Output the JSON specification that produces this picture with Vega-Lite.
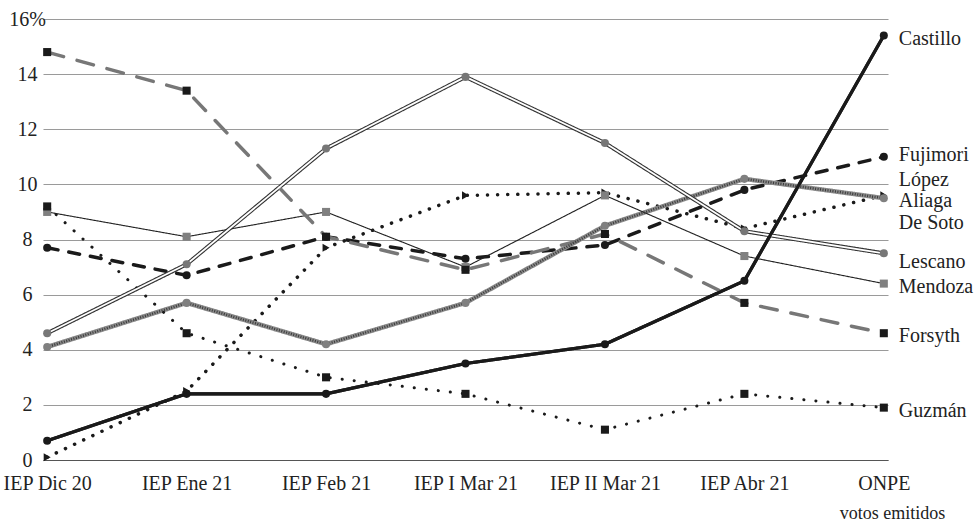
{
  "$schema": "https://vega.github.io/schema/vega-lite/v6.json",
  "width": 845,
  "height": 441,
  "autosize": {"type": "none"},
  "padding": {"left": 43, "top": 19, "right": 90, "bottom": 64},
  "background": "white",
  "data": {
    "values": [
      {"candidato": "Castillo", "encuesta": "IEP Dic 20", "valor": 0.7},
      {"candidato": "Castillo", "encuesta": "IEP Ene 21", "valor": 2.4},
      {"candidato": "Castillo", "encuesta": "IEP Feb 21", "valor": 2.4},
      {"candidato": "Castillo", "encuesta": "IEP I Mar 21", "valor": 3.5},
      {"candidato": "Castillo", "encuesta": "IEP II Mar 21", "valor": 4.2},
      {"candidato": "Castillo", "encuesta": "IEP Abr 21", "valor": 6.5},
      {"candidato": "Castillo", "encuesta": "ONPE", "valor": 15.4},
      {"candidato": "Fujimori", "encuesta": "IEP Dic 20", "valor": 7.7},
      {"candidato": "Fujimori", "encuesta": "IEP Ene 21", "valor": 6.7},
      {"candidato": "Fujimori", "encuesta": "IEP Feb 21", "valor": 8.1},
      {"candidato": "Fujimori", "encuesta": "IEP I Mar 21", "valor": 7.3},
      {"candidato": "Fujimori", "encuesta": "IEP II Mar 21", "valor": 7.8},
      {"candidato": "Fujimori", "encuesta": "IEP Abr 21", "valor": 9.8},
      {"candidato": "Fujimori", "encuesta": "ONPE", "valor": 11.0},
      {"candidato": "López Aliaga", "encuesta": "IEP Dic 20", "valor": 0.1},
      {"candidato": "López Aliaga", "encuesta": "IEP Ene 21", "valor": 2.5},
      {"candidato": "López Aliaga", "encuesta": "IEP Feb 21", "valor": 7.7},
      {"candidato": "López Aliaga", "encuesta": "IEP I Mar 21", "valor": 9.6},
      {"candidato": "López Aliaga", "encuesta": "IEP II Mar 21", "valor": 9.7},
      {"candidato": "López Aliaga", "encuesta": "IEP Abr 21", "valor": 8.4},
      {"candidato": "López Aliaga", "encuesta": "ONPE", "valor": 9.6},
      {"candidato": "De Soto", "encuesta": "IEP Dic 20", "valor": 4.1},
      {"candidato": "De Soto", "encuesta": "IEP Ene 21", "valor": 5.7},
      {"candidato": "De Soto", "encuesta": "IEP Feb 21", "valor": 4.2},
      {"candidato": "De Soto", "encuesta": "IEP I Mar 21", "valor": 5.7},
      {"candidato": "De Soto", "encuesta": "IEP II Mar 21", "valor": 8.5},
      {"candidato": "De Soto", "encuesta": "IEP Abr 21", "valor": 10.2},
      {"candidato": "De Soto", "encuesta": "ONPE", "valor": 9.5},
      {"candidato": "Lescano", "encuesta": "IEP Dic 20", "valor": 4.6},
      {"candidato": "Lescano", "encuesta": "IEP Ene 21", "valor": 7.1},
      {"candidato": "Lescano", "encuesta": "IEP Feb 21", "valor": 11.3},
      {"candidato": "Lescano", "encuesta": "IEP I Mar 21", "valor": 13.9},
      {"candidato": "Lescano", "encuesta": "IEP II Mar 21", "valor": 11.5},
      {"candidato": "Lescano", "encuesta": "IEP Abr 21", "valor": 8.3},
      {"candidato": "Lescano", "encuesta": "ONPE", "valor": 7.5},
      {"candidato": "Mendoza", "encuesta": "IEP Dic 20", "valor": 9.0},
      {"candidato": "Mendoza", "encuesta": "IEP Ene 21", "valor": 8.1},
      {"candidato": "Mendoza", "encuesta": "IEP Feb 21", "valor": 9.0},
      {"candidato": "Mendoza", "encuesta": "IEP I Mar 21", "valor": 7.0},
      {"candidato": "Mendoza", "encuesta": "IEP II Mar 21", "valor": 9.6},
      {"candidato": "Mendoza", "encuesta": "IEP Abr 21", "valor": 7.4},
      {"candidato": "Mendoza", "encuesta": "ONPE", "valor": 6.4},
      {"candidato": "Forsyth", "encuesta": "IEP Dic 20", "valor": 14.8},
      {"candidato": "Forsyth", "encuesta": "IEP Ene 21", "valor": 13.4},
      {"candidato": "Forsyth", "encuesta": "IEP Feb 21", "valor": 8.1},
      {"candidato": "Forsyth", "encuesta": "IEP I Mar 21", "valor": 6.9},
      {"candidato": "Forsyth", "encuesta": "IEP II Mar 21", "valor": 8.2},
      {"candidato": "Forsyth", "encuesta": "IEP Abr 21", "valor": 5.7},
      {"candidato": "Forsyth", "encuesta": "ONPE", "valor": 4.6},
      {"candidato": "Guzmán", "encuesta": "IEP Dic 20", "valor": 9.2},
      {"candidato": "Guzmán", "encuesta": "IEP Ene 21", "valor": 4.6},
      {"candidato": "Guzmán", "encuesta": "IEP Feb 21", "valor": 3.0},
      {"candidato": "Guzmán", "encuesta": "IEP I Mar 21", "valor": 2.4},
      {"candidato": "Guzmán", "encuesta": "IEP II Mar 21", "valor": 1.1},
      {"candidato": "Guzmán", "encuesta": "IEP Abr 21", "valor": 2.4},
      {"candidato": "Guzmán", "encuesta": "ONPE", "valor": 1.9}
    ]
  },
  "encoding": {
    "x": {
      "field": "encuesta",
      "type": "ordinal",
      "sort": ["IEP Dic 20", "IEP Ene 21", "IEP Feb 21", "IEP I Mar 21", "IEP II Mar 21", "IEP Abr 21", "ONPE"],
      "scale": {"padding": 0.03},
      "axis": {
        "labelAngle": 0,
        "labelPadding": 13,
        "labelFontSize": 20,
        "ticks": false,
        "tickSize": 0,
        "grid": false,
        "domainColor": "#555555",
        "domainWidth": 1.2,
        "title": "votos emitidos",
        "titleFontSize": 18,
        "titleFontWeight": "normal",
        "titleX": 849,
        "titleY": 58,
        "titleAlign": "center",
        "titleBaseline": "alphabetic",
        "titleColor": "#222222"
      }
    },
    "y": {
      "field": "valor",
      "type": "quantitative",
      "scale": {"domain": [0, 16], "nice": false},
      "axis": {
        "values": [0, 2, 4, 6, 8, 10, 12, 14, 16],
        "labelExpr": "datum.value == 16 ? '16%' : datum.label",
        "labelAlign": "center",
        "labelPadding": 16,
        "labelFontSize": 20,
        "domain": false,
        "ticks": false,
        "tickSize": 0,
        "gridColor": "#9a9a9a",
        "gridWidth": 1.1,
        "title": null
      }
    }
  },
  "layer": [
    {
      "mark": {"type": "line", "strokeCap": "round", "strokeJoin": "round"},
      "encoding": {
        "stroke": {
          "field": "candidato",
          "type": "nominal",
          "scale": {
            "domain": ["Mendoza", "Lescano", "De Soto", "Forsyth", "Guzmán", "López Aliaga", "Fujimori", "Castillo"],
            "range": ["#222222", "#333333", "#8a8a8a", "#777777", "#1a1a1a", "#1a1a1a", "#1a1a1a", "#1a1a1a"]
          },
          "legend": null
        },
        "strokeDash": {
          "field": "candidato",
          "type": "nominal",
          "scale": {
            "domain": ["Mendoza", "Lescano", "De Soto", "Forsyth", "Guzmán", "López Aliaga", "Fujimori", "Castillo"],
            "range": [[1, 0], [1, 0], [1, 0], [17, 14], [0.1, 12], [0.1, 10], [11, 11], [1, 0]]
          },
          "legend": null
        },
        "strokeWidth": {
          "field": "candidato",
          "type": "nominal",
          "scale": {
            "type": "ordinal",
            "domain": ["Mendoza", "Lescano", "De Soto", "Forsyth", "Guzmán", "López Aliaga", "Fujimori", "Castillo"],
            "range": [1.1, 4, 4.5, 3.5, 3, 3.5, 3.5, 3.2]
          },
          "legend": null
        },
        "order": {"value": null}
      }
    },
    {
      "transform": [{"filter": "datum.candidato == 'De Soto'"}],
      "mark": {"type": "line", "stroke": "#3a3a3a", "strokeWidth": 2.5, "strokeDash": [1, 1.5], "strokeCap": "butt"},
      "encoding": {"order": {"value": null}}
    },
    {
      "transform": [{"filter": "datum.candidato == 'Lescano'"}],
      "mark": {"type": "line", "stroke": "white", "strokeWidth": 1.8, "strokeJoin": "round"},
      "encoding": {"order": {"value": null}}
    },
    {
      "transform": [{"filter": "datum.candidato == 'Castillo'"}],
      "mark": {"type": "line", "stroke": "#1a1a1a", "strokeWidth": 3.2, "strokeJoin": "round"},
      "encoding": {"order": {"value": null}}
    },
    {
      "mark": {"type": "point", "filled": true, "size": 65, "opacity": 1, "strokeWidth": 0},
      "encoding": {
        "fill": {
          "field": "candidato",
          "type": "nominal",
          "scale": {
            "domain": ["Castillo", "Fujimori", "López Aliaga", "De Soto", "Lescano", "Mendoza", "Forsyth", "Guzmán"],
            "range": ["#1a1a1a", "#1a1a1a", "#1a1a1a", "#808080", "#777777", "#808080", "#1a1a1a", "#1a1a1a"]
          },
          "legend": null
        },
        "shape": {
          "field": "candidato",
          "type": "nominal",
          "scale": {
            "domain": ["Castillo", "Fujimori", "López Aliaga", "De Soto", "Lescano", "Mendoza", "Forsyth", "Guzmán"],
            "range": ["circle", "circle", "triangle-right", "circle", "circle", "square", "square", "square"]
          },
          "legend": null
        }
      }
    },
    {
      "transform": [{"filter": "datum.encuesta == 'ONPE' && indexof(['Castillo', 'Mendoza', 'Forsyth', 'Guzmán'], datum.candidato) >= 0"}],
      "mark": {"type": "text", "align": "left", "baseline": "middle", "dx": 15, "dy": 3, "fontSize": 20, "font": "Liberation Serif", "color": "#222222"},
      "encoding": {"text": {"field": "candidato"}}
    },
    {
      "transform": [{"filter": "datum.encuesta == 'ONPE' && datum.candidato == 'Fujimori'"}],
      "mark": {"type": "text", "align": "left", "baseline": "middle", "dx": 15, "dy": -2, "fontSize": 20, "font": "Liberation Serif", "color": "#222222"},
      "encoding": {"text": {"field": "candidato"}}
    },
    {
      "transform": [{"filter": "datum.encuesta == 'ONPE' && datum.candidato == 'López Aliaga'"}],
      "mark": {"type": "text", "align": "left", "baseline": "middle", "dx": 15, "dy": -15, "lineHeight": 21, "fontSize": 20, "font": "Liberation Serif", "color": "#222222"},
      "encoding": {"text": {"value": ["López", "Aliaga"]}}
    },
    {
      "transform": [{"filter": "datum.encuesta == 'ONPE' && datum.candidato == 'De Soto'"}],
      "mark": {"type": "text", "align": "left", "baseline": "middle", "dx": 15, "dy": 25, "fontSize": 20, "font": "Liberation Serif", "color": "#222222"},
      "encoding": {"text": {"field": "candidato"}}
    },
    {
      "transform": [{"filter": "datum.encuesta == 'ONPE' && datum.candidato == 'Lescano'"}],
      "mark": {"type": "text", "align": "left", "baseline": "middle", "dx": 15, "dy": 9, "fontSize": 20, "font": "Liberation Serif", "color": "#222222"},
      "encoding": {"text": {"field": "candidato"}}
    }
  ],
  "config": {
    "view": {"stroke": null},
    "font": "Liberation Serif",
    "axis": {"labelFont": "Liberation Serif", "titleFont": "Liberation Serif", "labelColor": "#222222"}
  }
}
